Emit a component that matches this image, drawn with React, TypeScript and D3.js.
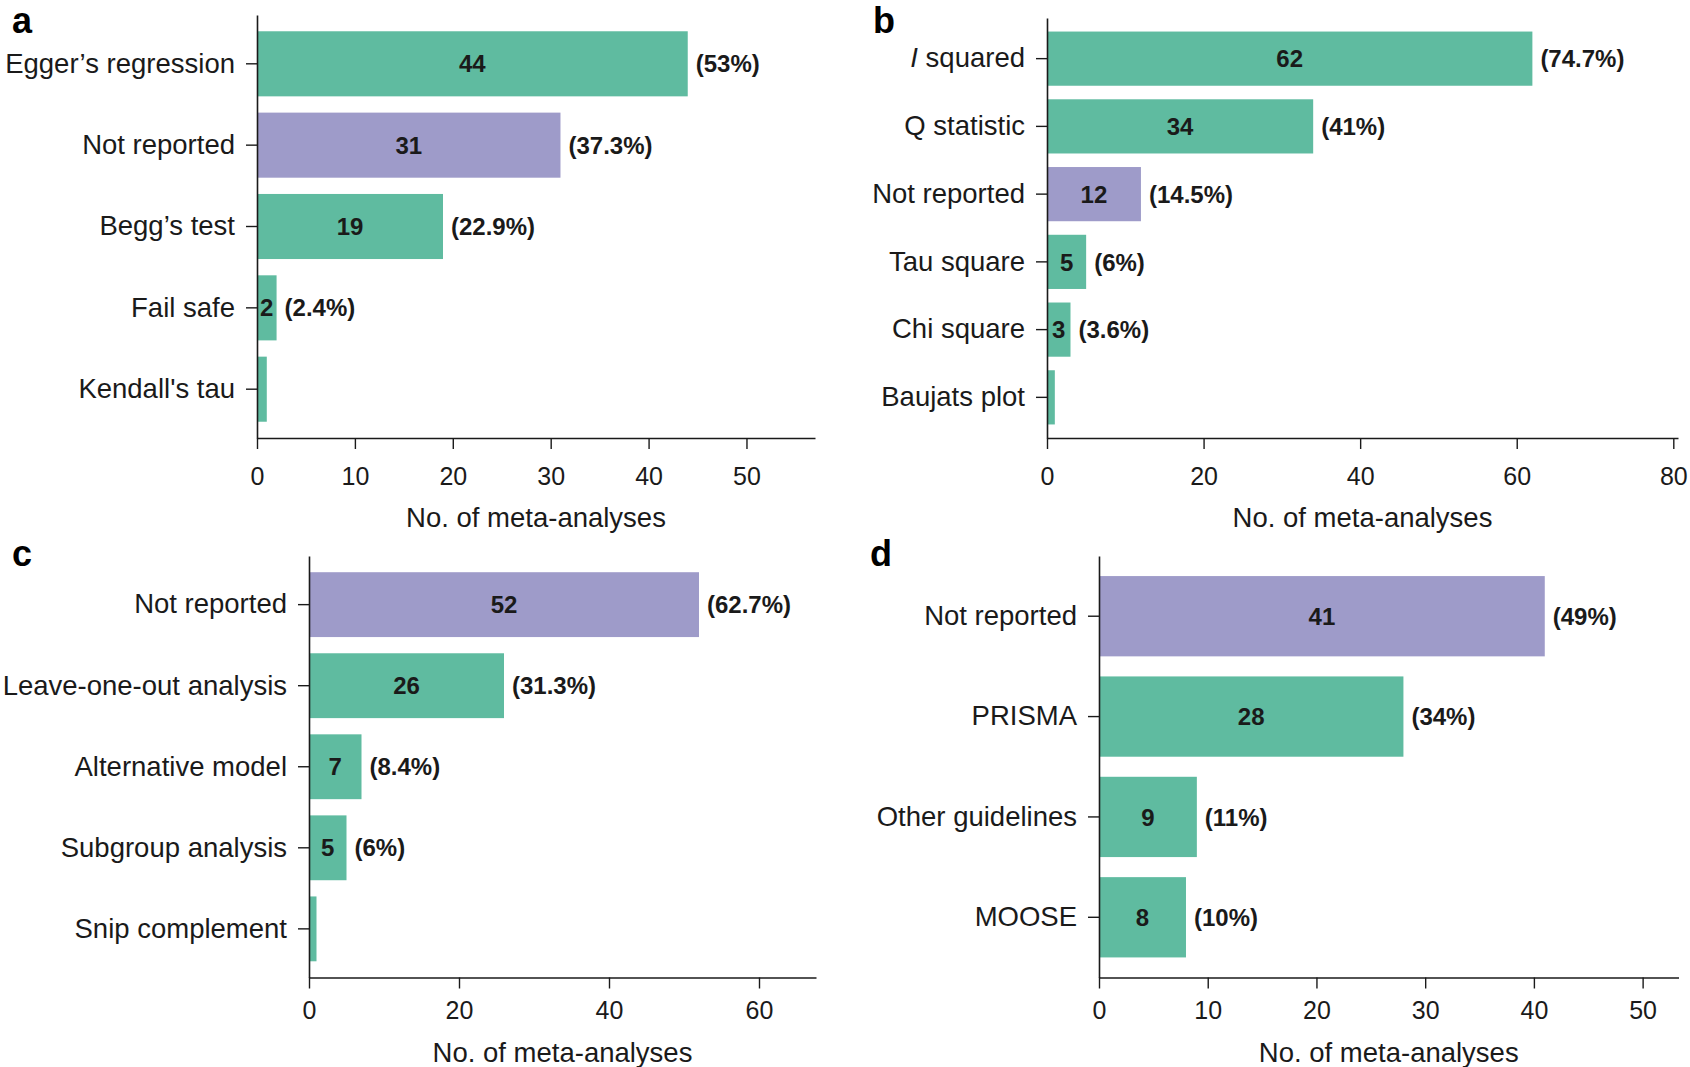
import React, { useEffect, useRef } from 'react';
import * as d3 from 'd3';

// ---- data ----
const aCats = ['Egger’s regression', 'Not reported', 'Begg’s test', 'Fail safe', "Kendall's tau"];
const aVals = [44, 31, 19, 2, 1];
const aPcts = ['(53%)', '(37.3%)', '(22.9%)', '(2.4%)', ''];
const aTicks = [0, 10, 20, 30, 40, 50];

const bCats = ['I squared', 'Q statistic', 'Not reported', 'Tau square', 'Chi square', 'Baujats plot'];
const bVals = [62, 34, 12, 5, 3, 1];
const bPcts = ['(74.7%)', '(41%)', '(14.5%)', '(6%)', '(3.6%)', ''];
const bTicks = [0, 20, 40, 60, 80];

const cCats = ['Not reported', 'Leave-one-out analysis', 'Alternative model', 'Subgroup analysis', 'Snip complement'];
const cVals = [52, 26, 7, 5, 1];
const cPcts = ['(62.7%)', '(31.3%)', '(8.4%)', '(6%)', ''];
const cTicks = [0, 20, 40, 60];

const dCats = ['Not reported', 'PRISMA', 'Other guidelines', 'MOOSE'];
const dVals = [41, 28, 9, 8];
const dPcts = ['(49%)', '(34%)', '(11%)', '(10%)'];
const dTicks = [0, 10, 20, 30, 40, 50];

const xTitle = 'No. of meta-analyses';

const GREEN = '#5fbba0';
const PURPLE = '#9e9bc9';
const INK = '#1a1a1a';
const FONT = '"Liberation Sans", Arial, sans-serif';

interface Panel {
  letter: string;
  letterX: number;
  letterY: number;
  cats: string[];
  vals: number[];
  pcts: string[];
  ticks: number[];
  xMax: number;
  x0: number;
  x1: number;
  yTop: number;
  yBot: number;
  tickPad: number;
  titleY: number;
}

const panels: Panel[] = [
  { letter: 'a', letterX: 12, letterY: 33, cats: aCats, vals: aVals, pcts: aPcts, ticks: aTicks,
    xMax: 57, x0: 257, x1: 815, yTop: 15, yBot: 438, tickPad: 18, titleY: 527 },
  { letter: 'b', letterX: 873, letterY: 33, cats: bCats, vals: bVals, pcts: bPcts, ticks: bTicks,
    xMax: 80.6, x0: 1047, x1: 1678, yTop: 18, yBot: 438, tickPad: 18, titleY: 527 },
  { letter: 'c', letterX: 12, letterY: 566, cats: cCats, vals: cVals, pcts: cPcts, ticks: cTicks,
    xMax: 67.6, x0: 309, x1: 816, yTop: 556, yBot: 977.5, tickPad: 13, titleY: 1062 },
  { letter: 'd', letterX: 870, letterY: 566, cats: dCats, vals: dVals, pcts: dPcts, ticks: dTicks,
    xMax: 53.3, x0: 1099, x1: 1678.5, yTop: 556, yBot: 977.5, tickPad: 13, titleY: 1062 },
];

function drawPanel(svg: d3.Selection<SVGSVGElement, unknown, null, undefined>, p: Panel) {
  const x = d3.scaleLinear().domain([0, p.xMax]).range([p.x0, p.x1]);
  const y = d3.scaleBand<string>().domain(p.cats).range([p.yTop, p.yBot]).paddingInner(0.2).paddingOuter(0.2);
  const g = svg.append('g');

  const rows = p.cats.map((c, i) => ({ cat: c, v: p.vals[i], pct: p.pcts[i] }));

  // bars
  g.selectAll('rect.bar')
    .data(rows)
    .join('rect')
    .attr('class', 'bar')
    .attr('x', x(0))
    .attr('y', d => y(d.cat)!)
    .attr('width', d => x(d.v) - x(0))
    .attr('height', y.bandwidth())
    .attr('fill', d => (d.cat === 'Not reported' ? PURPLE : GREEN));

  // counts inside bars
  g.selectAll('text.count')
    .data(rows.filter(d => d.pct !== ''))
    .join('text')
    .attr('class', 'count')
    .attr('x', d => (x(0) + x(d.v)) / 2)
    .attr('y', d => y(d.cat)! + y.bandwidth() / 2)
    .attr('dy', '0.36em')
    .attr('text-anchor', 'middle')
    .attr('font-family', FONT)
    .attr('font-weight', 'bold')
    .attr('font-size', 24)
    .attr('fill', INK)
    .text(d => d.v);

  // percentages
  g.selectAll('text.pct')
    .data(rows.filter(d => d.pct !== ''))
    .join('text')
    .attr('class', 'pct')
    .attr('x', d => x(d.v) + 8)
    .attr('y', d => y(d.cat)! + y.bandwidth() / 2)
    .attr('dy', '0.36em')
    .attr('font-family', FONT)
    .attr('font-weight', 'bold')
    .attr('font-size', 24)
    .attr('fill', INK)
    .text(d => d.pct);

  // x axis
  const xa = g.append('g')
    .attr('transform', `translate(0,${p.yBot})`)
    .call(d3.axisBottom(x).tickValues(p.ticks).tickFormat(d3.format('d')).tickSize(11).tickSizeOuter(0).tickPadding(p.tickPad));
  xa.select('.domain').attr('stroke', INK).attr('stroke-width', 1.6);
  xa.selectAll('.tick line').attr('stroke', INK).attr('stroke-width', 1.4);
  xa.selectAll('.tick text').attr('font-family', FONT).attr('font-size', 25).attr('fill', INK);

  // y axis
  const ya = g.append('g')
    .attr('transform', `translate(${p.x0},0)`)
    .call(d3.axisLeft(y).tickSize(11).tickSizeOuter(0).tickPadding(11));
  ya.select('.domain').attr('stroke', INK).attr('stroke-width', 1.6);
  ya.selectAll('.tick line').attr('stroke', INK).attr('stroke-width', 1.4);
  ya.selectAll<SVGTextElement, string>('.tick text')
    .attr('font-family', FONT)
    .attr('font-size', 27.5)
    .attr('fill', INK)
    .each(function (d) {
      if (d === 'I squared') {
        const t = d3.select(this);
        t.text(null);
        t.append('tspan').attr('font-style', 'italic').text('I');
        t.append('tspan').text(' squared');
      }
    });

  // axis title
  g.append('text')
    .attr('x', (p.x0 + p.x1) / 2)
    .attr('y', p.titleY)
    .attr('text-anchor', 'middle')
    .attr('font-family', FONT)
    .attr('font-size', 27.5)
    .attr('fill', INK)
    .text(xTitle);

  // panel letter
  g.append('text')
    .attr('x', p.letterX)
    .attr('y', p.letterY)
    .attr('font-family', FONT)
    .attr('font-weight', 900)
    .attr('font-size', 36)
    .attr('fill', '#000')
    .text(p.letter);
}

const App: React.FC = () => {
  const svgRef = useRef<SVGSVGElement>(null);

  useEffect(() => {
    if (!svgRef.current) return;
    const svg = d3.select(svgRef.current);
    svg.selectAll('*').remove();
    panels.forEach(p => drawPanel(svg, p));
  }, []);

  return (
    <div style={{ position: 'absolute', left: 0, top: 0 }}>
      <svg ref={svgRef} width={1690} height={1067} style={{ display: 'block', background: '#fff' }} />
    </div>
  );
};

export default App;
